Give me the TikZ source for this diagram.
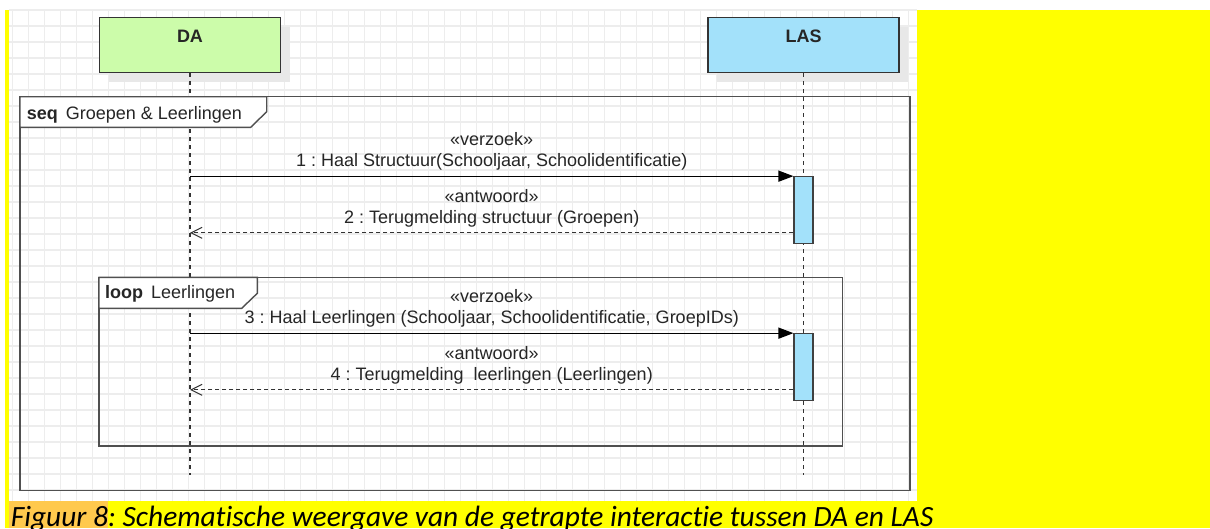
\documentclass[tikz,border=0pt]{standalone}
\usepackage{fontspec}
\setmainfont{Liberation Sans}
\newfontfamily\capfont[Ligatures=NoCommon]{Carlito}
\usetikzlibrary{arrows.meta,positioning,shadows}
\frenchspacing

\definecolor{dagreen}{HTML}{CCFCAA}
\definecolor{lasblue}{HTML}{A3E1FA}
\definecolor{pageyellow}{HTML}{FFFF00}
\definecolor{hlorange}{HTML}{FFC94D}
\definecolor{gridgray}{HTML}{EDEDED}
\definecolor{framegray}{HTML}{505050}

\tikzset{
  headbox/.style={draw=black!80, line width=1.2pt, minimum height=55pt, inner sep=0pt,
    drop shadow={shadow xshift=9pt, shadow yshift=-9pt, fill=black!9, opacity=1}},
  headlabel/.style={anchor=base, inner sep=0pt, font=\bfseries\fontsize{18}{21}\selectfont, text=black!85},
  actbar/.style={draw=black!75, line width=1.1pt, fill=lasblue, minimum width=19pt, minimum height=66.6pt, inner sep=0pt},
  lifeline/.style={draw=black!80, line width=1.1pt, dash pattern=on 4pt off 4pt},
  frame/.style={draw=framegray, line width=1.4pt},
  tabfill/.style={frame, fill=white},
  framelabel/.style={anchor=base west, inner sep=0pt, font=\fontsize{18}{21}\selectfont, text=black!85},
  call/.style={-{Triangle[length=15pt,width=11pt]}, line width=1.3pt},
  reply/.style={-{Straight Barb[length=11pt,width=11pt]}, line width=1pt, dash pattern=on 4pt off 3pt, draw=black!80},
  msglabel/.style={above=5pt, align=center, inner sep=0pt, font=\fontsize{18}{21}\selectfont, text=black!85},
  captiontext/.style={anchor=base west, inner sep=0pt, font=\capfont\itshape\fontsize{29.4}{34}\selectfont}
}

\begin{document}
\begin{tikzpicture}[x=1pt,y=-1pt]
\clip (0,0) rectangle (1210,528);
\fill[white] (0,0) rectangle (1210,528);
\fill[pageyellow] (5,10) rectangle (1210,528);
\fill[white] (9,10) rectangle (917,500.5);

% grid
\foreach \gx in {0,...,56}
  \draw[gridgray, line width=1.2pt] ({12.3+16*\gx},10) -- ({12.3+16*\gx},500.5);
\foreach \gy in {0,...,30}
  \draw[gridgray, line width=1.2pt] (9,{10+16*\gy}) -- (917,{10+16*\gy});

% lifelines
\node[headbox, fill=dagreen, minimum width=181pt] (da) at (190,45.2) {};
\node[headbox, fill=lasblue, minimum width=191pt] (las) at (803.5,45.2) {};
\node[headlabel] (dalabel) at (190,42.5) {DA};
\node[headlabel] (laslabel) at (803.5,42.5) {LAS};
\coordinate (dabot) at (190,475);
\coordinate (lasbot) at (803.5,475);
\draw[lifeline] (da.south) -- (dabot);
\draw[lifeline] (las.south) -- (lasbot);

% frames
\draw[frame] (20,96.7) rectangle (910,490.7);
\filldraw[tabfill] (20,96.7) -- (266.7,96.7) -- (266.7,111.7) -- (250.7,127.3) -- (20,127.3) -- cycle;
\node[framelabel] (seqlabel) at (26.7,119.3) {\textbf{seq}\, Groepen \& Leerlingen};

\draw[frame] (99,277.3) rectangle (842.7,446);
\filldraw[tabfill] (99,277.3) -- (257.3,277.3) -- (257.3,293.3) -- (241.7,308.3) -- (99,308.3) -- cycle;
\node[framelabel] (looplabel) at (105,298.3) {\textbf{loop}\, Leerlingen};

% activations
\node[actbar] (act1) at (803.5,210) {};
\node[actbar] (act2) at (803.5,367) {};

% messages
\draw[call] (da.south |- act1.north) -- node[msglabel] (m1) {«verzoek»\\1 : Haal Structuur(Schooljaar, Schoolidentificatie)} (act1.north west);
\coordinate (r1) at ([yshift=11pt]act1.south west);
\draw[reply] (r1) -- node[msglabel] (m2) {«antwoord»\\2 : Terugmelding structuur (Groepen)} (da.south |- r1);

\draw[call] (da.south |- act2.north) -- node[msglabel] (m3) {«verzoek»\\3 : Haal Leerlingen (Schooljaar, Schoolidentificatie, GroepIDs)} (act2.north west);
\coordinate (r2) at ([yshift=11pt]act2.south west);
\draw[reply] (r2) -- node[msglabel] (m4) {«antwoord»\\4 : Terugmelding\ \ leerlingen (Leerlingen)} (da.south |- r2);

% caption
\fill[hlorange] (9,501) rectangle (107.5,528);
\node[captiontext] (caption) at (10.7,526.6) {Figuur 8: Schematische weergave van de getrapte interactie tussen DA en LAS};
\end{tikzpicture}
\end{document}
